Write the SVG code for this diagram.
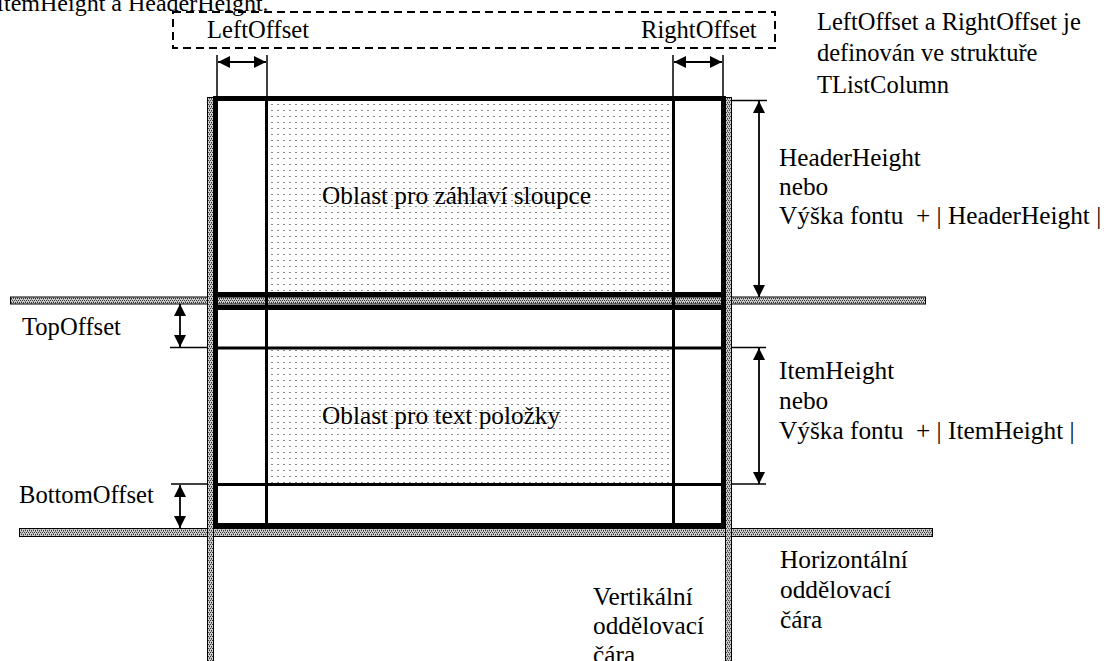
<svg xmlns="http://www.w3.org/2000/svg" width="1109" height="661" viewBox="0 0 1109 661">
  <style>
    text { font-family: "Liberation Serif", "Times New Roman", serif; font-size: 25.3px; fill: #000; }
    .small { font-size: 24.6px; }
    .note { font-size: 24.5px; }
    .head { font-size: 24px; }
    .hatch { fill: url(#hatch); stroke: #000; stroke-width: 1; }
    .thick { stroke: #000; stroke-width: 5; fill: none; }
    .mid { stroke: #000; stroke-width: 3; fill: none; }
    .ext { stroke: #000; stroke-width: 1.5; fill: none; }
    .arrow { stroke: #000; stroke-width: 1.8; fill: none; marker-start: url(#head); marker-end: url(#head); }
    .dots { fill: url(#dots); }
  </style>
  <defs>
    <!-- fine grey checker texture for the separator lines -->
    <pattern id="hatch" width="4" height="4" patternUnits="userSpaceOnUse">
      <rect width="4" height="4" fill="#cccccc"/>
      <rect x="0" y="0" width="1" height="1" fill="#3a3a3a"/>
      <rect x="2" y="0" width="1" height="1" fill="#3a3a3a"/>
      <rect x="1" y="2" width="1" height="1" fill="#3a3a3a"/>
      <rect x="3" y="2" width="1" height="1" fill="#3a3a3a"/>
      <rect x="1" y="1" width="1" height="1" fill="#7a7a7a"/>
      <rect x="3" y="3" width="1" height="1" fill="#7a7a7a"/>
    </pattern>
    <!-- light dotted fill of the text areas -->
    <pattern id="dots" width="6" height="6" patternUnits="userSpaceOnUse">
      <rect x="1" y="2" width="2" height="1" fill="#8a8a8a"/>
    </pattern>
    <marker id="head" viewBox="0 0 12 12" markerWidth="12" markerHeight="12" refX="12" refY="6" markerUnits="userSpaceOnUse" orient="auto-start-reverse">
      <path d="M0,0 L12,6 L0,12 z" fill="#000"/>
    </marker>
  </defs>

  <rect width="1109" height="661" fill="#fff"/>

  <!-- heading line, partly above the top edge -->
  <text class="head" x="-4" y="11">ItemHeight a HeaderHeight.</text>

  <!-- offset legend box -->
  <g id="offset-box">
    <rect x="173" y="12" width="602" height="36" fill="none" stroke="#000" stroke-width="2" stroke-dasharray="8 5"/>
    <text class="small" x="207" y="38">LeftOffset</text>
    <text class="small" x="641" y="38">RightOffset</text>
  </g>

  <g id="offset-note">
    <text class="note" x="817" y="30">LeftOffset a RightOffset je</text>
    <text class="note" x="817" y="61">definován ve struktuře</text>
    <text class="note" x="817" y="93">TListColumn</text>
  </g>

  <!-- dotted content areas -->
  <g id="header-area">
    <rect class="dots" x="268" y="101" width="404" height="191"/>
    <text x="322" y="204">Oblast pro záhlaví sloupce</text>
  </g>
  <g id="item-area">
    <rect class="dots" x="268" y="350" width="404" height="133"/>
    <text x="322" y="424">Oblast pro text položky</text>
  </g>

  <!-- separator lines -->
  <g id="horizontal-separator">
    <rect class="hatch" x="10.5" y="297" width="915" height="7"/>
    <rect class="hatch" x="19.5" y="528.5" width="913" height="8"/>
  </g>
  <g id="vertical-separator">
    <rect class="hatch" x="207.5" y="97.5" width="6" height="570"/>
    <rect class="hatch" x="725.5" y="97.5" width="6" height="570"/>
  </g>

  <!-- column frame -->
  <g id="column-frame">
    <line class="thick" x1="213" y1="98.5" x2="726" y2="98.5"/>
    <line class="thick" x1="213" y1="294.5" x2="726" y2="294.5"/>
    <line class="thick" x1="213" y1="307.5" x2="726" y2="307.5"/>
    <line class="mid" x1="213" y1="348" x2="726" y2="348"/>
    <line class="mid" x1="213" y1="484.5" x2="726" y2="484.5"/>
    <line class="thick" x1="213" y1="525.5" x2="726" y2="525.5"/>
    <line class="thick" x1="215.5" y1="96" x2="215.5" y2="528"/>
    <line class="thick" x1="723.5" y1="96" x2="723.5" y2="528"/>
    <line class="mid" x1="266.5" y1="96" x2="266.5" y2="528"/>
    <line class="mid" x1="673.5" y1="96" x2="673.5" y2="528"/>
  </g>

  <!-- dimension lines -->
  <g id="connectors">
    <line class="ext" x1="217" y1="55" x2="217" y2="97"/>
    <line class="ext" x1="267" y1="55" x2="267" y2="97"/>
    <line class="ext" x1="673" y1="55" x2="673" y2="97"/>
    <line class="ext" x1="723" y1="55" x2="723" y2="97"/>
    <line class="arrow" x1="218" y1="62" x2="266" y2="62"/>
    <line class="arrow" x1="674" y1="62" x2="722" y2="62"/>

    <line class="ext" x1="731" y1="100.5" x2="767" y2="100.5"/>
    <line class="ext" x1="731" y1="347.5" x2="766" y2="347.5"/>
    <line class="ext" x1="731" y1="484" x2="766" y2="484"/>
    <line class="arrow" x1="759" y1="101" x2="759" y2="297"/>
    <line class="arrow" x1="759" y1="348" x2="759" y2="484"/>

    <line class="ext" x1="170" y1="347.5" x2="208" y2="347.5"/>
    <line class="ext" x1="171" y1="484" x2="208" y2="484"/>
    <line class="arrow" x1="180" y1="304" x2="180" y2="347"/>
    <line class="arrow" x1="180" y1="485" x2="180" y2="528"/>
  </g>

  <g id="header-height-label">
    <text x="779" y="166">HeaderHeight</text>
    <text x="779" y="195">nebo</text>
    <text x="779" y="224">Výška fontu <tspan x="916">+ | HeaderHeight |</tspan></text>
  </g>
  <g id="item-height-label">
    <text x="779" y="379">ItemHeight</text>
    <text x="779" y="409">nebo</text>
    <text x="779" y="439">Výška fontu <tspan x="916">+ | ItemHeight |</tspan></text>
  </g>
  <g id="top-offset-label">
    <text class="small" x="22" y="335">TopOffset</text>
  </g>
  <g id="bottom-offset-label">
    <text class="small" x="19" y="503">BottomOffset</text>
  </g>
  <g id="horizontal-label">
    <text x="780" y="568">Horizontální</text>
    <text x="780" y="598">oddělovací</text>
    <text x="780" y="628">čára</text>
  </g>
  <g id="vertical-label">
    <text x="593" y="605">Vertikální</text>
    <text x="593" y="634">oddělovací</text>
    <text x="593" y="663">čára</text>
  </g>
</svg>
